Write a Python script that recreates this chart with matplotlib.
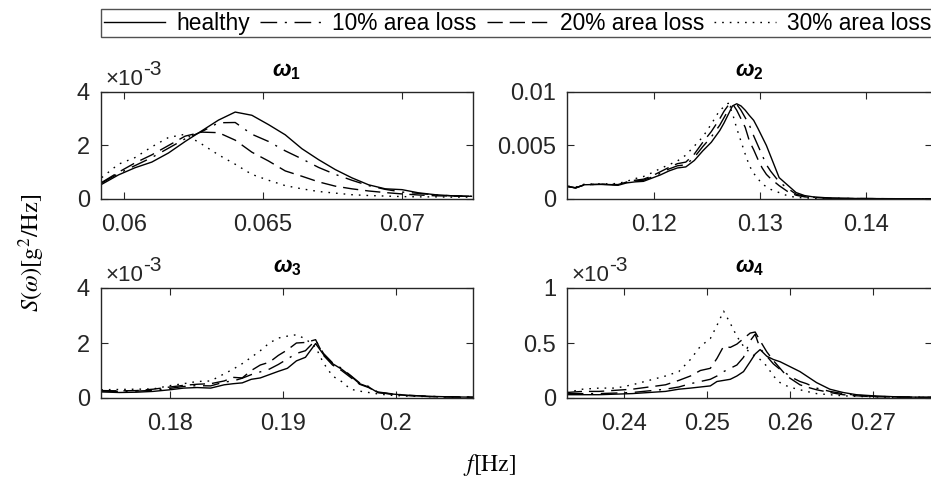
import matplotlib
matplotlib.use("Agg")
import matplotlib.pyplot as plt
from matplotlib.ticker import FuncFormatter, FixedLocator
import numpy as np

plt.rcParams['font.family'] = ['Liberation Sans', 'DejaVu Sans']
plt.rcParams['mathtext.fontset'] = 'custom'
plt.rcParams['mathtext.rm'] = 'Liberation Sans'
plt.rcParams['mathtext.it'] = 'Liberation Sans:italic'
plt.rcParams['mathtext.bf'] = 'Liberation Sans:bold'
try:
    plt.rcParams['mathtext.bfit'] = 'Liberation Sans:italic:bold'
except Exception:
    pass

# ---------------- data (PSD values in units of 1e-3 g^2/Hz) ----------------
labels = ['healthy', '10% area loss', '20% area loss', '30% area loss']
titles = [r'$\boldsymbol{\omega}_{\mathbf{1}}$', r'$\boldsymbol{\omega}_{\mathbf{2}}$',
          r'$\boldsymbol{\omega}_{\mathbf{3}}$', r'$\boldsymbol{\omega}_{\mathbf{4}}$']

f1 = [0.0592, 0.0598, 0.0604, 0.0610, 0.0616, 0.0622, 0.0628, 0.0634, 0.0640, 0.0646,
      0.0652, 0.0658, 0.0664, 0.0670, 0.0676, 0.0682, 0.0688, 0.0694, 0.0700, 0.0706,
      0.0712, 0.0718, 0.0725]
s1_healthy = [0.55, 0.90, 1.17, 1.38, 1.72, 2.15, 2.55, 2.95, 3.25, 3.13, 2.78, 2.40, 1.88,
              1.47, 1.10, 0.79, 0.53, 0.38, 0.35, 0.23, 0.16, 0.12, 0.10]
s1_loss10 = [0.60, 0.95, 1.25, 1.55, 1.90, 2.25, 2.52, 2.85, 2.86, 2.42, 2.15, 1.80, 1.50,
             1.18, 0.92, 0.70, 0.50, 0.36, 0.26, 0.21, 0.15, 0.12, 0.10]
s1_loss20 = [0.62, 1.00, 1.35, 1.65, 2.00, 2.35, 2.50, 2.48, 2.20, 1.75, 1.42, 1.05, 0.85,
             0.64, 0.48, 0.38, 0.30, 0.24, 0.19, 0.15, 0.12, 0.11, 0.10]
s1_loss30 = [0.80, 1.30, 1.55, 1.95, 2.30, 2.42, 2.05, 1.65, 1.30, 0.92, 0.70, 0.50, 0.38,
             0.28, 0.22, 0.16, 0.13, 0.11, 0.09, 0.08, 0.08, 0.07, 0.07]

f2 = [0.1119, 0.1126, 0.1134, 0.1142, 0.1150, 0.1158, 0.1166, 0.1174, 0.1182, 0.1190,
      0.1198, 0.1206, 0.1214, 0.1222, 0.1230, 0.1238, 0.1246, 0.1254, 0.1262, 0.1266,
      0.1270, 0.1274, 0.1278, 0.1282, 0.1286, 0.1290, 0.1294, 0.1298, 0.1302, 0.1306,
      0.1310, 0.1318, 0.1326, 0.1334, 0.1342, 0.1350, 0.1366, 0.1390, 0.1420, 0.1470]
s2_healthy = [1.18, 1.02, 1.33, 1.35, 1.36, 1.33, 1.28, 1.50, 1.60, 1.65, 1.95, 2.25, 2.62,
              2.90, 3.00, 3.60, 4.50, 5.30, 6.40, 7.10, 7.90, 8.70, 8.90, 8.70, 8.30, 7.80,
              7.35, 6.60, 5.80, 5.00, 4.00, 2.00, 1.30, 0.60, 0.32, 0.20, 0.09, 0.05, 0.03, 0.02]
s2_loss10 = [1.15, 1.05, 1.32, 1.36, 1.38, 1.35, 1.32, 1.55, 1.68, 1.75, 2.05, 2.40, 2.80,
             3.10, 3.20, 3.90, 4.90, 5.80, 6.90, 7.60, 8.30, 8.90, 8.85, 8.30, 7.60, 6.90,
             5.90, 5.00, 4.10, 3.20, 2.60, 1.60, 1.00, 0.45, 0.25, 0.16, 0.08, 0.04, 0.03, 0.02]
s2_loss20 = [1.15, 1.05, 1.30, 1.36, 1.38, 1.36, 1.35, 1.58, 1.75, 1.85, 2.15, 2.55, 2.95,
             3.30, 3.45, 4.20, 5.30, 6.30, 7.50, 8.20, 8.75, 8.90, 8.30, 7.50, 6.70, 5.40,
             4.60, 3.70, 2.90, 2.30, 1.90, 1.25, 0.70, 0.35, 0.20, 0.14, 0.07, 0.04, 0.03, 0.02]
s2_loss30 = [1.20, 1.10, 1.38, 1.40, 1.42, 1.42, 1.45, 1.65, 1.90, 2.10, 2.45, 2.85, 3.20,
             3.55, 4.10, 4.95, 5.80, 7.00, 8.30, 8.60, 8.95, 8.00, 6.60, 5.40, 4.20, 3.10,
             2.40, 1.90, 1.40, 1.15, 0.90, 0.60, 0.30, 0.15, 0.10, 0.07, 0.04, 0.03, 0.02, 0.02]

f3 = [0.1739, 0.1755, 0.1770, 0.1785, 0.1800, 0.1812, 0.1824, 0.1836, 0.1848, 0.1856,
      0.1864, 0.1872, 0.1880, 0.1888, 0.1896, 0.1904, 0.1912, 0.1920, 0.1929, 0.1936,
      0.1944, 0.1952, 0.1960, 0.1968, 0.1976, 0.1984, 0.1995, 0.2010, 0.2030, 0.2050, 0.2069]
s3_healthy = [0.22, 0.20, 0.21, 0.24, 0.30, 0.36, 0.38, 0.36, 0.48, 0.52, 0.55, 0.68, 0.73,
              0.85, 0.97, 1.08, 1.35, 1.48, 1.98, 1.58, 1.25, 1.05, 0.80, 0.52, 0.40, 0.20,
              0.15, 0.10, 0.06, 0.04, 0.03]
s3_loss10 = [0.25, 0.24, 0.25, 0.28, 0.35, 0.42, 0.45, 0.44, 0.58, 0.62, 0.72, 0.85, 0.95,
             1.05, 1.22, 1.42, 1.62, 1.72, 2.10, 1.62, 1.28, 1.08, 0.82, 0.55, 0.42, 0.22,
             0.16, 0.10, 0.06, 0.04, 0.03]
s3_loss20 = [0.27, 0.26, 0.27, 0.32, 0.40, 0.46, 0.50, 0.52, 0.62, 0.75, 0.73, 1.00, 1.20,
             1.30, 1.55, 1.75, 2.00, 2.02, 2.12, 1.55, 1.20, 1.00, 0.75, 0.50, 0.38, 0.20,
             0.15, 0.09, 0.05, 0.04, 0.03]
s3_loss30 = [0.30, 0.31, 0.32, 0.33, 0.45, 0.52, 0.60, 0.62, 0.88, 1.05, 1.25, 1.48, 1.72,
             2.00, 2.18, 2.25, 2.30, 2.15, 1.85, 1.27, 0.80, 0.60, 0.32, 0.25, 0.20, 0.15,
             0.10, 0.07, 0.05, 0.03, 0.02]

f4 = [0.2331, 0.2350, 0.2370, 0.2390, 0.2410, 0.2430, 0.2450, 0.2466, 0.2480, 0.2492,
      0.2504, 0.2512, 0.2520, 0.2528, 0.2536, 0.2544, 0.2552, 0.2558, 0.2564, 0.2572,
      0.2580, 0.2588, 0.2596, 0.2604, 0.2612, 0.2620, 0.2632, 0.2648, 0.2664, 0.2680,
      0.2700, 0.2730, 0.2780]
s4_healthy = [0.03, 0.03, 0.03, 0.035, 0.04, 0.05, 0.06, 0.08, 0.09, 0.10, 0.11, 0.15, 0.16,
              0.17, 0.20, 0.24, 0.33, 0.40, 0.44, 0.38, 0.35, 0.33, 0.30, 0.27, 0.24, 0.20,
              0.14, 0.08, 0.05, 0.03, 0.02, 0.01, 0.005]
s4_loss10 = [0.04, 0.04, 0.04, 0.045, 0.05, 0.065, 0.08, 0.10, 0.13, 0.15, 0.17, 0.20, 0.24,
             0.27, 0.30, 0.37, 0.52, 0.58, 0.45, 0.38, 0.31, 0.26, 0.22, 0.18, 0.15, 0.13,
             0.09, 0.06, 0.04, 0.025, 0.015, 0.01, 0.005]
s4_loss20 = [0.05, 0.06, 0.06, 0.07, 0.08, 0.10, 0.12, 0.16, 0.20, 0.25, 0.27, 0.36, 0.47,
             0.46, 0.49, 0.54, 0.59, 0.60, 0.52, 0.42, 0.34, 0.27, 0.20, 0.16, 0.12, 0.10,
             0.075, 0.05, 0.03, 0.02, 0.012, 0.008, 0.005]
s4_loss30 = [0.05, 0.08, 0.09, 0.09, 0.12, 0.16, 0.20, 0.24, 0.35, 0.47, 0.54, 0.66, 0.79,
             0.68, 0.56, 0.47, 0.41, 0.38, 0.35, 0.29, 0.20, 0.14, 0.11, 0.09, 0.075, 0.06,
             0.04, 0.03, 0.02, 0.015, 0.01, 0.006, 0.004]

freqs = [f1, f2, f3, f4]
series = [[s1_healthy, s1_loss10, s1_loss20, s1_loss30],
          [s2_healthy, s2_loss10, s2_loss20, s2_loss30],
          [s3_healthy, s3_loss10, s3_loss20, s3_loss30],
          [s4_healthy, s4_loss10, s4_loss20, s4_loss30]]
xlims = [(0.059173, 0.072554), (0.11179, 0.14622), (0.17388, 0.20685), (0.23313, 0.27711)]
xticks = [[0.06, 0.065, 0.07], [0.12, 0.13, 0.14], [0.18, 0.19, 0.2], [0.24, 0.25, 0.26, 0.27]]
ylims = [4e-3, 0.01, 4e-3, 1e-3]
yticks = [[0, 2e-3, 4e-3], [0, 0.005, 0.01], [0, 2e-3, 4e-3], [0, 0.5e-3, 1e-3]]
use_exp = [True, False, True, True]

# ---------------- figure ----------------
W, H = 931, 496
fig = plt.figure(figsize=(W / 100, H / 100), dpi=100)
fig.patch.set_facecolor('white')

def px_axes(l, t, r, b):
    return [l / W, 1 - b / H, (r - l) / W, (b - t) / H]

pix = [(101, 92, 473, 199), (567, 92, 932, 199), (101, 288, 473, 398), (567, 288, 932, 398)]
boxes = [px_axes(*p) for p in pix]

dark = '#262626'
styles = [dict(linestyle='-'),
          dict(linestyle=(0, (12, 5.5, 1.5, 5.5))),
          dict(linestyle=(0, (11, 5))),
          dict(linestyle=(0, (1.2, 4.3)))]

handles = []
for i in range(4):
    ax = fig.add_axes(boxes[i])
    for j in range(4):
        vals = np.array(series[i][j]) * 1e-3
        ln, = ax.plot(freqs[i], vals, color='black', lw=1.0, **styles[j])
        if i == 0:
            handles.append(ln)
    ax.set_xlim(*xlims[i])
    ax.set_ylim(0, ylims[i])
    ax.xaxis.set_major_locator(FixedLocator(xticks[i]))
    ax.yaxis.set_major_locator(FixedLocator(yticks[i]))
    ax.xaxis.set_major_formatter(FuncFormatter(lambda v, p: '%g' % round(v, 6)))
    if use_exp[i]:
        ax.yaxis.set_major_formatter(FuncFormatter(lambda v, p: '%g' % round(v * 1e3, 6)))
        l, t = pix[i][0], pix[i][1]
        fig.text((l + 4) / W, 1 - (t - 7) / H, '\u00d710', ha='left', va='baseline',
                 fontsize=16, color=dark)
        fig.text((l + 42) / W, 1 - (t - 17) / H, '-3', ha='left', va='baseline',
                 fontsize=15, color=dark)
    else:
        ax.yaxis.set_major_formatter(FuncFormatter(lambda v, p: '%g' % round(v, 6)))
    ax.tick_params(direction='in', top=True, right=True, length=5, width=0.8,
                   colors=dark, labelsize=17)
    ax.tick_params(axis='x', pad=11)
    ax.tick_params(axis='y', pad=8)
    for sp in ax.spines.values():
        sp.set_color(dark)
        sp.set_linewidth(1.0)
    ax.set_title(titles[i], fontsize=16, color='black', pad=11)

fig.text(32 / W, 1 - 253 / H, r'$S(\omega)[\mathrm{g}^2/\mathrm{Hz}]$', rotation=90,
         ha='center', va='center', fontsize=17.5, math_fontfamily='stix')
fig.text(490 / W, 1 - 465 / H, r'$f[\mathrm{Hz}]$', ha='center', va='center',
         fontsize=17, math_fontfamily='stix')

leg = fig.legend(handles, labels, ncol=4, loc='upper left',
                 bbox_to_anchor=(101 / W, 1 - 9 / H), frameon=True, fancybox=False,
                 fontsize=16.4, handlelength=2.7, handletextpad=0.48, columnspacing=0.45,
                 borderpad=0.12, borderaxespad=0)
leg.get_frame().set_edgecolor(dark)
leg.get_frame().set_linewidth(1.0)

fig.savefig('out.png', dpi=100)
